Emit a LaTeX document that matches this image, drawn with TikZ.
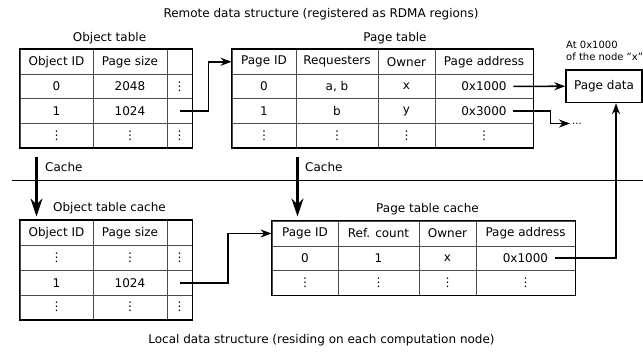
\documentclass[tikz,border=0pt]{standalone}
\usepackage{fontspec}
\setmainfont{DejaVu Sans}
\usetikzlibrary{arrows.meta}
\newcommand\tabcell[6]{\node[cell, minimum width={#3pt-#2pt}, minimum height={#5pt-#4pt}] (#1) at ({(#2+#3)/2},{(#4+#5)/2}) {#6};}
\begin{document}
\begin{tikzpicture}[x=1pt,y=-1pt,
  every node/.style={font=\fontsize{12}{14}\selectfont},
  cell/.style={draw=black!70, line width=0.8pt, inner sep=0pt, anchor=center},
  frame/.style={draw=black, line width=1.7pt},
  conn/.style={draw, line width=1.6pt, -{Stealth[length=11pt,width=8pt,inset=3.5pt]}},
  cachearrow/.style={draw, line width=2.2pt, -{Stealth[length=18pt,width=12pt,inset=6pt]}},
  title/.style={inner sep=0pt, anchor=center},
  small/.style={font=\fontsize{10}{12}\selectfont},
]
\useasboundingbox (0,0) rectangle (643,351);

% titles
\node[title] (remote) at (321,14) {Remote data structure (registered as RDMA regions)};
\node[title] (local) at (321.5,340) {Local data structure (residing on each computation node)};
\node[title] (otitle) at (109.5,38) {Object table};
\node[title] (ptitle) at (395,38) {Page table};
\node[title] (otctitle) at (109.5,208) {Object table cache};
\node[title] (ptctitle) at (427.5,209) {Page table cache};

% Object table
\foreach \r/\ya/\yb/\ta/\tb/\tc in {1/49.5/74/Object ID/Page size/{},2/74/98.8/0/2048/⋮,3/98.8/123.5/1/1024/{},4/123.5/147.5/⋮/⋮/⋮}{
  \tabcell{ot-\r-1}{20}{93}{\ya}{\yb}{\ta}
  \tabcell{ot-\r-2}{93}{167}{\ya}{\yb}{\tb}
  \tabcell{ot-\r-3}{167}{192}{\ya}{\yb}{\tc}
}
\draw[frame] (ot-1-1.north west) rectangle (ot-4-3.south east);

% Page table
\foreach \r/\ya/\yb/\ta/\tb/\tc/\td in {1/49.5/74/Page ID/Requesters/Owner/Page address,2/74/98.8/0/{a, b}/x/0x1000,3/98.8/123.5/1/b/y/0x3000,4/123.5/147.5/⋮/⋮/⋮/⋮}{
  \tabcell{pt-\r-1}{232}{296}{\ya}{\yb}{\ta}
  \tabcell{pt-\r-2}{296}{378}{\ya}{\yb}{\tb}
  \tabcell{pt-\r-3}{378}{435}{\ya}{\yb}{\tc}
  \tabcell{pt-\r-4}{435}{533}{\ya}{\yb}{\td}
}
\draw[frame] (pt-1-1.north west) rectangle (pt-4-4.south east);

% Object table cache
\foreach \r/\ya/\yb/\ta/\tb/\tc in {1/220.7/245.7/Object ID/Page size/{},2/245.7/270.5/⋮/⋮/⋮,3/270.5/295/1/1024/{},4/295/319.3/⋮/⋮/⋮}{
  \tabcell{otc-\r-1}{20}{93}{\ya}{\yb}{\ta}
  \tabcell{otc-\r-2}{93}{167}{\ya}{\yb}{\tb}
  \tabcell{otc-\r-3}{167}{192}{\ya}{\yb}{\tc}
}
\draw[frame] (otc-1-1.north west) rectangle (otc-4-3.south east);

% Page table cache
\foreach \r/\ya/\yb/\ta/\tb/\tc/\td in {1/221/246/Page ID/Ref. count/Owner/Page address,2/246/270/0/1/x/0x1000,3/270/295/⋮/⋮/⋮/⋮}{
  \tabcell{ptc-\r-1}{272}{338}{\ya}{\yb}{\ta}
  \tabcell{ptc-\r-2}{338}{419}{\ya}{\yb}{\tb}
  \tabcell{ptc-\r-3}{419}{476}{\ya}{\yb}{\tc}
  \tabcell{ptc-\r-4}{476}{575}{\ya}{\yb}{\td}
}
\draw[frame] (ptc-1-1.north west) rectangle (ptc-3-4.south east);

% Page data
\node[draw, line width=1.4pt, minimum width=76pt, minimum height=32.5pt, inner sep=0pt] (pd) at (604,86.25) {Page data};
\node[small, align=left, anchor=west, inner sep=0pt] (pdnote) at (566,51) {At 0x1000\\of the node \symbol{34}x\symbol{34}};
\node[small, anchor=west, inner sep=2pt] (more) at (570,123.5) {...};

% separator
\coordinate (sepl) at (12,180.5);
\coordinate (sepr) at (643,180.5);
\draw[line width=0.8pt] (sepl) -- (sepr);

% cache arrows
\coordinate (c1s) at (36.5,156.5);
\coordinate (c1e) at (36.5,216.5);
\coordinate (c2s) at (297.5,156.5);
\coordinate (c2e) at (297.5,216.5);
\draw[cachearrow] (c1s) -- (c1e);
\draw[cachearrow] (c2s) -- (c2e);
\node[anchor=west, inner sep=0pt] (cl1) at (45,166.7) {Cache};
\node[anchor=west, inner sep=0pt] (cl2) at (305,166.7) {Cache};

% connectors
\draw[conn] (ot-3-3.center) -- ++(29,0) |- (pt-1-1.west);
\draw[conn] ([xshift=-20pt]pt-2-4.east) -- (pd.west);
\draw[conn] ([xshift=-20pt]pt-3-4.east) -- ++(37,0) |- (more.west);
\draw[conn] (otc-3-3.center) -- ++(48.5,0) |- (ptc-1-1.west);
\draw[conn] ([xshift=-20pt]ptc-2-4.east) -| ([xshift=12pt]pd.south);
\end{tikzpicture}
\end{document}
